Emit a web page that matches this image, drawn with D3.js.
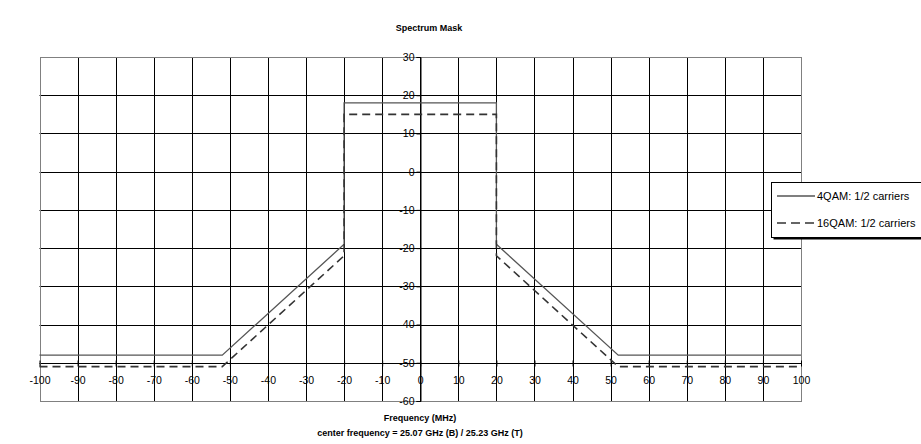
<!DOCTYPE html>
<html><head><meta charset="utf-8">
<script src="https://cdn.jsdelivr.net/npm/d3@7"></script>
<style>body{margin:0;background:#fff;} svg{display:block;font-family:"Liberation Sans",Arial,sans-serif;}</style>
</head><body>
<svg id="c" width="921" height="444"></svg>
<script>
const xTicks = [-100,-90,-80,-70,-60,-50,-40,-30,-20,-10,0,10,20,30,40,50,60,70,80,90,100];
const yTicks = [-60,-50,-40,-30,-20,-10,0,10,20,30];
const series4qamX = [-100,-52,-20,-20,20,20,52,100];
const series4qamY = [-48,-48,-19,18,18,-19,-48,-48];
const series16qamX = [-100,-52,-20,-20,20,20,52,100];
const series16qamY = [-51,-51,-22,15,15,-22,-51,-51];
const seriesNames = ["4QAM: 1/2 carriers","16QAM: 1/2 carriers"];

const svg = d3.select("#c");
const x = d3.scaleLinear().domain([-100,100]).range([39.5,801]);
const y = d3.scaleLinear().domain([-60,30]).range([401,57]);

svg.append("rect").attr("x",x(-100)).attr("y",y(30)).attr("width",x(100)-x(-100)).attr("height",y(-60)-y(30))
  .attr("fill","#fff");
const g = svg.append("g");
g.selectAll("line.vg").data(xTicks.slice(1,-1)).join("line")
  .attr("x1",d=>Math.round(x(d))+0.5).attr("x2",d=>Math.round(x(d))+0.5).attr("y1",y(30)).attr("y2",y(-60))
  .attr("stroke","#000").attr("stroke-width",1);
g.selectAll("line.hg").data(yTicks.slice(1,-1)).join("line")
  .attr("y1",d=>Math.round(y(d))+0.5).attr("y2",d=>Math.round(y(d))+0.5).attr("x1",x(-100)).attr("x2",x(100))
  .attr("stroke","#000").attr("stroke-width",1);
svg.append("rect").attr("x",Math.round(x(-100))+0.5).attr("y",Math.round(y(30))+0.5)
  .attr("width",Math.round(x(100))-Math.round(x(-100))).attr("height",Math.round(y(-60))-Math.round(y(30)))
  .attr("fill","none").attr("stroke","#808080");

const fmt = d => String(d);
const yAxis = d3.axisLeft(y).tickValues(yTicks).tickSize(4).tickPadding(2).tickFormat(fmt);
const ya = svg.append("g").attr("transform",`translate(${Math.round(x(0))+0.5},0)`).call(yAxis);
const xAxis = d3.axisBottom(x).tickValues(xTicks).tickSize(3).tickPadding(10).tickFormat(fmt);
const xa = svg.append("g").attr("transform",`translate(0,${Math.round(y(-50))+0.5})`).call(xAxis);
xa.select(".domain").remove();
[ya,xa].forEach(a=>{
  a.selectAll("text").attr("font-family","Liberation Sans, Arial, sans-serif").attr("font-size",10.5).attr("fill","#000");
  a.selectAll("line").attr("stroke","#000");
  a.select(".domain").attr("stroke","#000");
});
xa.selectAll(".tick line").attr("y1",-3);

const line = d3.line().x(d=>x(d[0])).y(d=>y(d[1]));
const d4 = series4qamX.map((v,i)=>[v,series4qamY[i]]);
const d16 = series16qamX.map((v,i)=>[v,series16qamY[i]]);
svg.append("path").attr("d",line(d4)).attr("fill","none").attr("stroke","#555").attr("stroke-width",1.3);
svg.append("path").attr("d",line(d16)).attr("fill","none").attr("stroke","#333").attr("stroke-width",1.6).attr("stroke-dasharray","8,5");

const lg = svg.append("g");
lg.append("rect").attr("x",773.5).attr("y",184.5).attr("width",160).attr("height",55).attr("fill","#000");
lg.append("rect").attr("x",771.5).attr("y",182.5).attr("width",160).attr("height",55).attr("fill","#fff").attr("stroke","#000");
[{n:seriesNames[0],dash:null,col:"#555",w:1.3,yy:196},{n:seriesNames[1],dash:"9,5",col:"#333",w:1.6,yy:223}].forEach(s=>{
  lg.append("line").attr("x1",777).attr("x2",815).attr("y1",s.yy).attr("y2",s.yy).attr("stroke",s.col).attr("stroke-width",s.w)
    .attr("stroke-dasharray",s.dash);
  lg.append("text").attr("x",817).attr("y",s.yy+4).attr("font-size",11).text(s.n);
});

svg.append("text").attr("x",429).attr("y",31).attr("text-anchor","middle").attr("font-size",9).attr("font-weight","bold").text("Spectrum Mask");
svg.append("text").attr("x",420).attr("y",421).attr("text-anchor","middle").attr("font-size",9).attr("font-weight","bold").text("Frequency (MHz)");
svg.append("text").attr("x",420).attr("y",436).attr("text-anchor","middle").attr("font-size",9).attr("font-weight","bold").text("center frequency = 25.07 GHz (B) / 25.23 GHz (T)");
svg.append("clipPath").attr("id","yc").append("rect").attr("x",0).attr("y",168).attr("width",40).attr("height",200);
svg.append("text").attr("clip-path","url(#yc)").attr("transform","translate(20,290) rotate(-90)")
  .attr("font-size",9.5).attr("font-weight","bold").text("Emission level (dBm)");
</script>
</body></html>
